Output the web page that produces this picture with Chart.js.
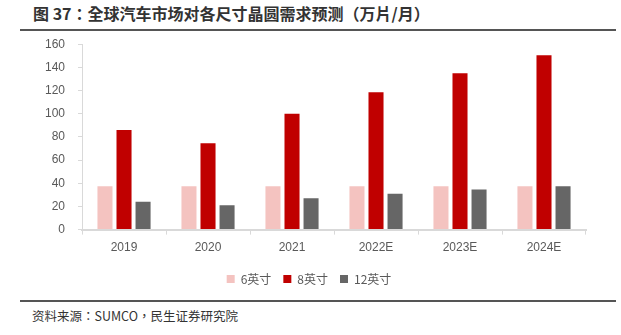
<!DOCTYPE html>
<html>
<head>
<meta charset="utf-8">
<script src="https://cdn.jsdelivr.net/npm/chart.js@4.4.0/dist/chart.umd.min.js"></script>
<style>
  body { margin: 0; background: #fff; width: 621px; height: 335px; position: relative; overflow: hidden; }
  #title { position: absolute; left: 33px; top: 1px; font: bold 16px "Noto Sans CJK TC", sans-serif; color: #333; }
  .rule { position: absolute; left: 20px; width: 596px; height: 2px; background: #555; }
  #source { position: absolute; left: 32px; top: 306px; font: 12.5px "Noto Sans CJK TC", sans-serif; color: #333; }
  #box { position: absolute; left: 0; top: 24px; width: 621px; height: 274px; }
</style>
</head>
<body>
<div id="title">图 37：全球汽车市场对各尺寸晶圆需求预测（万片/月）</div>
<div class="rule" style="top:29px"></div>
<div id="box"><canvas id="chart"></canvas></div>
<div class="rule" style="top:300px"></div>
<div id="source">资料来源：SUMCO，民生证券研究院</div>
<script>
// 年份（横轴）
const years = ["2019", "2020", "2021", "2022E", "2023E", "2024E"];

// 各尺寸晶圆需求（万片/月）
const inch6 = [37.5, 37.5, 37.5, 37.5, 37.5, 37.5];
const inch8 = [86, 74.5, 100, 118.5, 135, 150.5];
const inch12 = [24, 21, 27, 31, 34.5, 37.5];

const seriesNames = ["6英寸", "8英寸", "12英寸"];

let ctx = document.getElementById('chart');

let chart = new Chart(ctx, {
    type: 'bar',
    data: {
        labels: years,
        datasets: [
            { label: seriesNames[0], data: inch6, backgroundColor: '#F4C3C0' },
            { label: seriesNames[1], data: inch8, backgroundColor: '#C00000' },
            { label: seriesNames[2], data: inch12, backgroundColor: '#666666' }
        ]
    },
    options: {
        responsive: true,
        maintainAspectRatio: false,
        animation: false,
        categoryPercentage: 0.68,
        barPercentage: 0.79,
        layout: {
            padding: { left: 32, right: 35, top: 6, bottom: 3 }
        },
        plugins: {
            legend: {
                position: 'bottom',
                labels: {
                    boxWidth: 8,
                    boxHeight: 8,
                    padding: 12,
                    color: '#595959',
                    font: { size: 12, family: '"Noto Sans CJK SC", sans-serif' }
                }
            },
            tooltip: { enabled: false }
        },
        scales: {
            x: {
                grid: {
                    drawOnChartArea: false,
                    tickLength: 5,
                    color: '#d9d9d9'
                },
                border: { color: '#d9d9d9', width: 2 },
                ticks: {
                    color: '#595959',
                    padding: 6,
                    font: { size: 12, family: '"Liberation Sans", sans-serif' }
                }
            },
            y: {
                min: 0,
                max: 160,
                grid: {
                    drawOnChartArea: false,
                    tickLength: 4,
                    color: '#d9d9d9'
                },
                border: { color: '#d9d9d9', width: 1 },
                ticks: {
                    stepSize: 20,
                    color: '#595959',
                    padding: 13,
                    font: { size: 12, family: '"Liberation Sans", sans-serif' }
                }
            }
        }
    }
});
</script>
</body>
</html>
